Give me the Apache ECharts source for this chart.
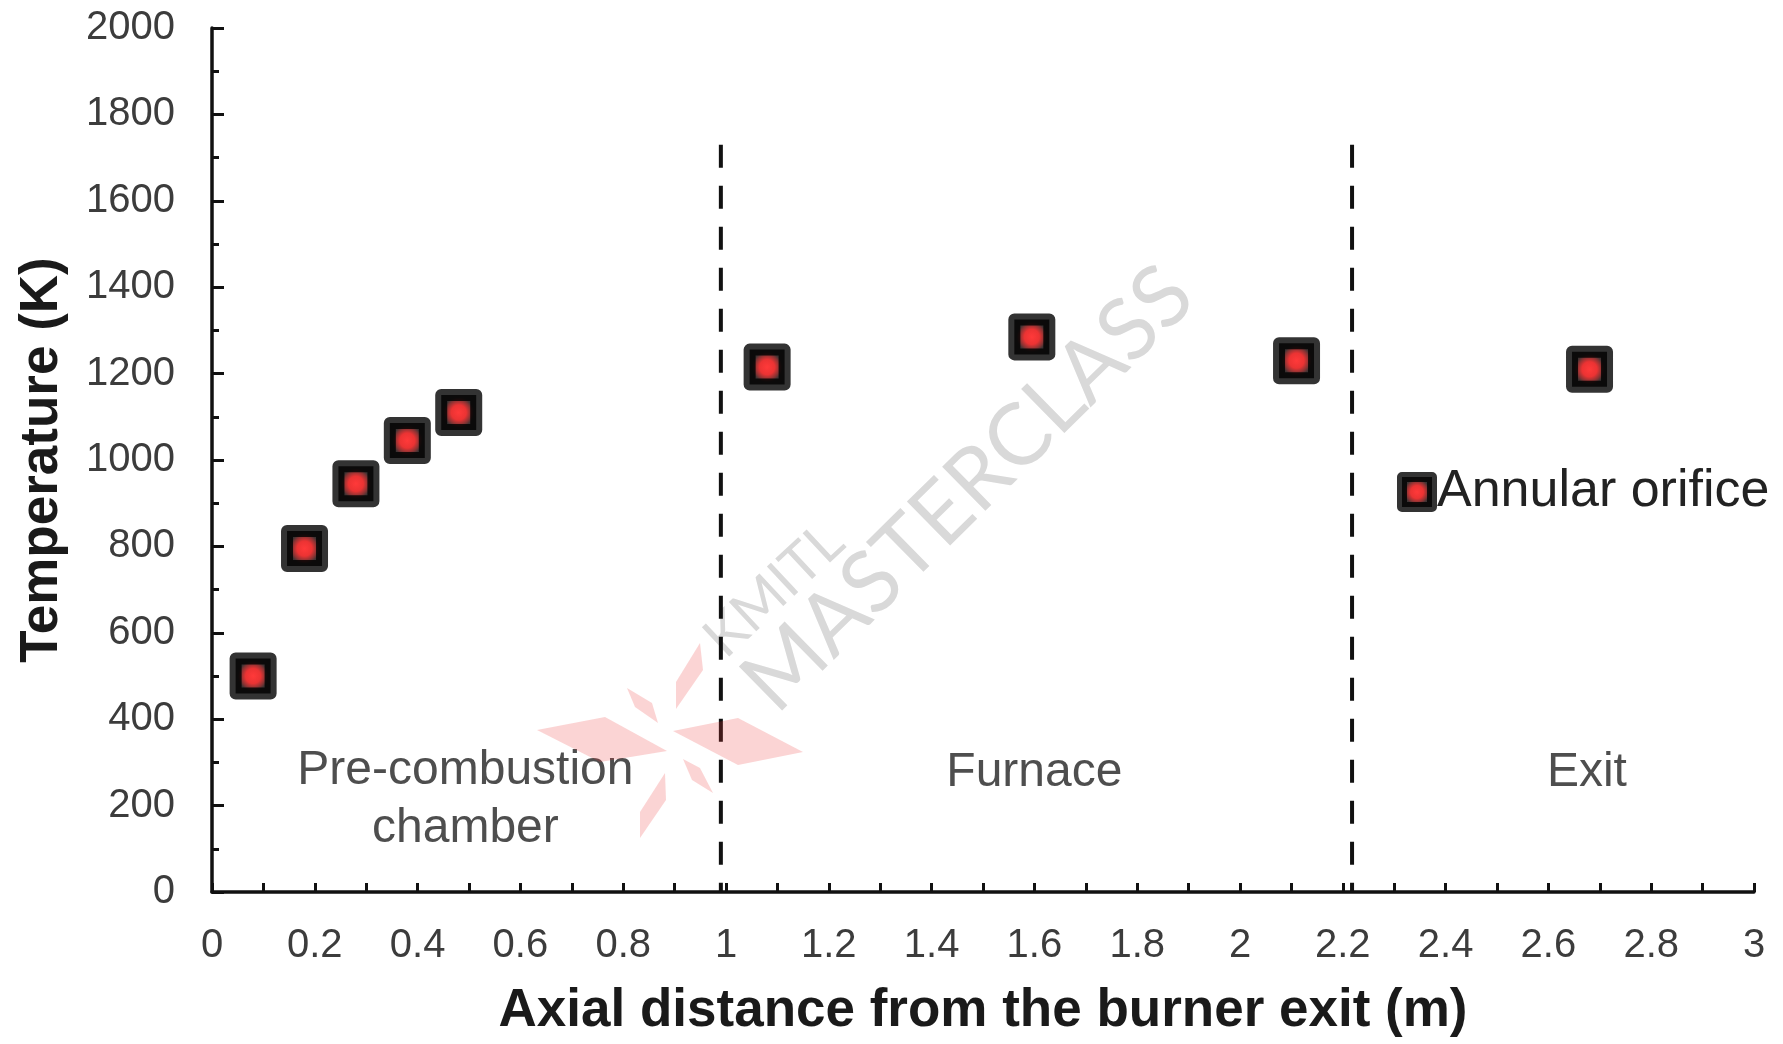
<!DOCTYPE html>
<html>
<head>
<meta charset="utf-8">
<script src="https://cdn.jsdelivr.net/npm/echarts@6/dist/echarts.min.js"></script>
<style>
  html, body { margin: 0; padding: 0; background: #ffffff; }
  #chart { width: 1783px; height: 1044px; }
</style>
</head>
<body>
<div id="chart"></div>
<script>
// Measured gas temperature along the burner axis
const distance    = [0.08, 0.18, 0.28, 0.38, 0.48, 1.08, 1.595, 2.11, 2.68];
const temperature = [500, 795, 945, 1045, 1110, 1215, 1285, 1230, 1210];
const seriesName  = 'Annular orifice';

// Zone boundaries (m) and the height the dashed dividers reach (K)
const dividerX   = [0.99, 2.218];
const dividerTop = 1730;

// Zone names and where they sit in data units
const regionNames = ['Pre-combustion\nchamber', 'Furnace', 'Exit'];
const regionX     = [0.493, 1.6, 2.675];
const regionY     = [213, 275, 275];

// Axis ranges
const xMin = 0, xMax = 3, xStep = 0.2;
const yMin = 0, yMax = 2000, yStep = 200;

const FONT = "'Liberation Sans', Arial, Helvetica, sans-serif";
const AXIS_COLOR = '#111111';

const chart = echarts.init(document.getElementById('chart'), null, { renderer: 'canvas' });

const markerFill = {
  type: 'radial', x: 0.5, y: 0.5, r: 0.5,
  colorStops: [
    { offset: 0.0,  color: '#ff0808' },
    { offset: 0.32, color: '#e60000' },
    { offset: 0.52, color: '#6a0000' },
    { offset: 0.64, color: '#0c0000' },
    { offset: 1.0,  color: '#000000' }
  ]
};

const dividerSeries = dividerX.map(function (x) {
  return {
    type: 'line',
    data: [[x, dividerTop], [x, 0]],
    symbol: 'none',
    silent: true,
    z: 1,
    lineStyle: { color: AXIS_COLOR, width: 4, type: [23, 18] },
    animation: false
  };
});

const regionSeries = {
  type: 'scatter',
  silent: true,
  symbolSize: 0,
  z: 1,
  data: regionNames.map(function (n, i) { return { name: n, value: [regionX[i], regionY[i]] }; }),
  label: {
    show: true,
    position: 'inside',
    formatter: function (p) { return p.name; },
    fontFamily: FONT,
    fontSize: 48,
    lineHeight: 58,
    color: '#222222',
    align: 'center',
    verticalAlign: 'middle'
  },
  animation: false
};

// Light watermark: diagonal lettering and a pink star logo
const logoPieces = [
  [[537, 730], [605, 717], [667, 751], [600, 762]],
  [[673, 731], [738, 718], [803, 752], [738, 765]],
  [[700, 643], [703, 670], [676, 709], [676, 682]],
  [[627, 688], [652, 703], [658, 723], [635, 707]],
  [[683, 759], [700, 768], [713, 793], [692, 780]],
  [[665, 773], [666, 800], [640, 838], [640, 812]]
];

const graphics = [
  {
    type: 'text', x: 968, y: 489, rotation: 44.5 * Math.PI / 180, z: -1, silent: true,
    style: { text: 'MASTERCLASS', font: "400 86px Lato, 'Open Sans', sans-serif", fill: '#d9d9d9',
             align: 'center', verticalAlign: 'middle', textAlign: 'center', textVerticalAlign: 'middle' }
  },
  {
    type: 'text', x: 774, y: 590, rotation: 43 * Math.PI / 180, z: -1, silent: true,
    style: { text: 'KMITL', font: "400 56px Lato, 'Open Sans', sans-serif", fill: '#d9d9d9',
             align: 'center', verticalAlign: 'middle', textAlign: 'center', textVerticalAlign: 'middle' }
  }
].concat(logoPieces.map(function (pts) {
  return { type: 'polygon', z: 100, silent: true, shape: { points: pts },
           style: { fill: 'rgba(235,60,60,0.22)' } };
}));

chart.setOption({
  animation: false,
  backgroundColor: '#ffffff',
  grid: { left: 212, right: 29, top: 28, bottom: 152, containLabel: false, outerBoundsMode: 'none' },
  legend: {
    data: [seriesName],
    left: 1397,
    top: 466,
    padding: 0,
    itemWidth: 30,
    itemHeight: 30,
    itemStyle: { borderWidth: 10 },
    textStyle: { fontFamily: FONT, fontSize: 52, color: '#222222' }
  },
  xAxis: {
    type: 'value',
    min: xMin, max: xMax, interval: xStep,
    name: 'Axial distance from the burner exit (m)',
    nameLocation: 'middle',
    nameGap: 93,
    nameTextStyle: { fontFamily: FONT, fontSize: 53, fontWeight: 'bold', color: '#1a1a1a' },
    axisLine: { show: true, onZero: false, lineStyle: { color: AXIS_COLOR, width: 3.5 } },
    axisTick: { show: true, inside: true, length: 9, lineStyle: { color: AXIS_COLOR, width: 3 } },
    minorTick: { show: true, splitNumber: 2, length: 9, lineStyle: { color: AXIS_COLOR, width: 3 } },
    axisLabel: { fontFamily: FONT, fontSize: 40, color: '#3c3c3c', margin: 34 },
    splitLine: { show: false }
  },
  yAxis: {
    type: 'value',
    min: yMin, max: yMax, interval: yStep,
    name: 'Temperature (K)',
    nameLocation: 'middle',
    nameGap: 143,
    nameTextStyle: { fontFamily: FONT, fontSize: 53, fontWeight: 'bold', color: '#1a1a1a' },
    axisLine: { show: true, onZero: false, lineStyle: { color: AXIS_COLOR, width: 3.5 } },
    axisTick: { show: true, inside: true, length: 12, lineStyle: { color: AXIS_COLOR, width: 3 } },
    minorTick: { show: true, splitNumber: 2, length: 7, lineStyle: { color: AXIS_COLOR, width: 3 } },
    axisLabel: {
      fontFamily: FONT, fontSize: 40, color: '#3c3c3c', margin: 37,
      formatter: function (v) { return String(v); }
    },
    splitLine: { show: false }
  },
  graphic: graphics,
  series: dividerSeries.concat([
    regionSeries,
    {
      name: seriesName,
      type: 'scatter',
      data: distance.map(function (d, i) { return [d, temperature[i]]; }),
      symbol: 'rect',
      symbolSize: 35,
      z: 5,
      itemStyle: {
        color: markerFill,
        borderColor: '#000000',
        borderWidth: 12,
        borderJoin: 'round'
      }
    }
  ])
});
</script>
</body>
</html>
